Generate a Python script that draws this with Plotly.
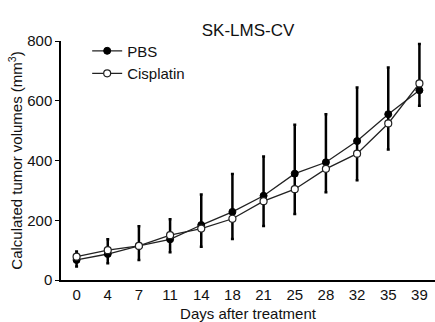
import plotly.graph_objects as go

days = ["0", "4", "7", "11", "14", "18", "21", "25", "28", "32", "35", "39"]
pbs = [67, 87, 114, 136, 184, 228, 282, 356, 394, 465, 555, 635]
cis = [78, 100, 114, 150, 172, 205, 264, 304, 372, 423, 524, 658]
err_top = [95, 136, 180, 203, 286, 355, 413, 520, 555, 644, 711, 790]
err_bot = [45, 56, 67, 93, 111, 137, 181, 221, 294, 334, 437, 583]

err_plus = [t - p for t, p in zip(err_top, pbs)]
err_minus = [p - b for p, b in zip(pbs, err_bot)]

FONT = "Liberation Sans, Arial, sans-serif"

fig = go.Figure()
fig.add_trace(go.Scatter(
    x=days, y=pbs, name="PBS", mode="lines+markers",
    line=dict(color="#222222", width=1.3),
    marker=dict(symbol="circle", size=7, color="black", line=dict(color="black", width=1)),
    error_y=dict(type="data", symmetric=False, array=err_plus, arrayminus=err_minus,
                 color="black", thickness=2.5, width=1.5),
))
fig.add_trace(go.Scatter(
    x=days, y=cis, name="Cisplatin", mode="lines+markers",
    line=dict(color="#222222", width=1.3),
    marker=dict(symbol="circle", size=7, color="white", line=dict(color="#222222", width=1.2)),
))

fig.update_layout(
    width=435, height=322,
    margin=dict(l=61, r=0, t=41, b=42),
    paper_bgcolor="white", plot_bgcolor="white",
    font=dict(family=FONT, size=15, color="#111111"),
    title=dict(text="SK-LMS-CV", x=248/435, xanchor="center", y=1 - 30/322, yanchor="middle",
               yref="container", xref="container", font=dict(size=17, family=FONT, color="#111111")),
    showlegend=True,
    legend=dict(x=0.07, y=1.027, xanchor="left", yanchor="top", bgcolor="rgba(0,0,0,0)",
                font=dict(size=15, family=FONT), itemwidth=30, tracegroupgap=0),
    xaxis=dict(type="category", range=[-0.5, 11.5], showline=True, linecolor="black", linewidth=1.5,
               ticks="", showgrid=False, zeroline=False, tickfont=dict(size=15),
               title=dict(text="Days after treatment", font=dict(size=15), standoff=7)),
    yaxis=dict(range=[0, 800], tickvals=[0, 200, 400, 600, 800], showline=True, linecolor="black",
               linewidth=1.5, ticks="outside", ticklen=4, tickcolor="black", showgrid=False,
               zeroline=False, tickfont=dict(size=15),
               title=dict(text="Calculated tumor volumes (mm<sup>3</sup>)", font=dict(size=15), standoff=1)),
)

fig.write_html("out.html")
